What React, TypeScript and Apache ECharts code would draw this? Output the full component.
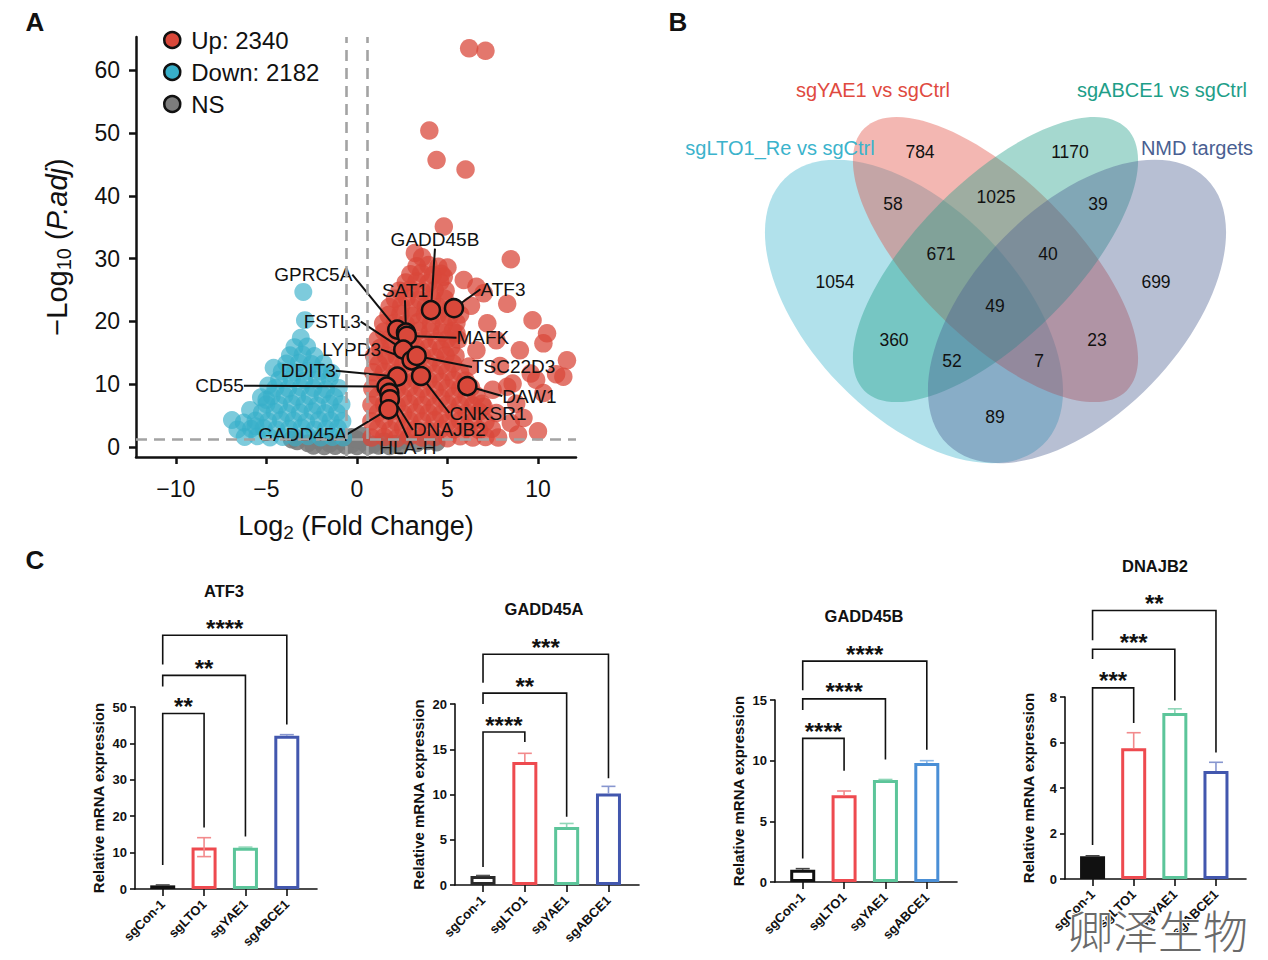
import React, { useEffect, useRef } from 'react';
import * as echarts from 'echarts';

const FONT = '"Liberation Sans", Arial, Helvetica, sans-serif';

/* ---------------- Panel A: volcano plot ---------------- */
const UP_LABEL = 'Up: 2340';
const DOWN_LABEL = 'Down: 2182';
const NS_LABEL = 'NS';
const LOG2FC_CUTOFF = 0.585;
const PADJ_CUTOFF = 1.3;
const VOLCANO_X_TICKS = [-10, -5, 0, 5, 10];
const VOLCANO_Y_TICKS = [0, 10, 20, 30, 40, 50, 60];

// [log2 fold change, -log10 adjusted p]
const UP_GENES: number[][] = [
  [0.8, 1.5], [1.5, 1.6], [2.2, 1.4], [2.9, 1.7], [3.6, 1.5], [4.3, 1.6], [5.0, 1.4], [5.7, 1.7], [6.4, 1.5], [7.1, 1.6], [7.8, 1.5],
  [1.15, 2.9], [1.85, 2.7], [2.55, 3.0], [3.25, 2.8], [3.95, 2.6], [4.65, 2.9], [5.35, 2.8], [6.05, 3.0], [6.75, 2.7], [7.45, 2.9],
  [0.8, 4.1], [1.5, 4.3], [2.2, 4.0], [2.9, 4.2], [3.6, 4.1], [4.3, 4.3], [5.0, 3.9], [5.7, 4.2], [6.4, 4.1], [7.1, 4.0],
  [1.15, 5.4], [1.85, 5.6], [2.55, 5.3], [3.25, 5.5], [3.95, 5.4], [4.65, 5.2], [5.35, 5.5], [6.05, 5.4], [6.75, 5.6],
  [0.8, 6.7], [1.5, 6.8], [2.2, 6.6], [2.9, 6.9], [3.6, 6.7], [4.3, 6.5], [5.0, 6.8], [5.7, 6.7], [6.4, 6.6], [6.9, 6.9],
  [1.15, 8.0], [1.85, 8.2], [2.55, 7.9], [3.25, 8.1], [3.95, 8.0], [4.65, 7.8], [5.35, 8.1], [6.05, 8.0], [6.6, 8.2],
  [0.85, 9.3], [1.5, 9.4], [2.2, 9.2], [2.9, 9.5], [3.6, 9.3], [4.3, 9.1], [5.0, 9.4], [5.7, 9.3], [6.3, 9.5],
  [1.15, 10.6], [1.85, 10.8], [2.55, 10.5], [3.25, 10.7], [3.95, 10.6], [4.65, 10.4], [5.35, 10.7], [6.0, 10.6],
  [0.9, 11.9], [1.5, 12.0], [2.2, 11.8], [2.9, 12.1], [3.6, 11.9], [4.3, 11.7], [5.0, 12.0], [5.7, 11.9],
  [1.2, 13.2], [1.85, 13.4], [2.55, 13.1], [3.25, 13.3], [3.95, 13.2], [4.65, 13.0], [5.3, 13.3],
  [0.95, 14.5], [1.6, 14.6], [2.2, 14.4], [2.9, 14.7], [3.6, 14.5], [4.3, 14.3], [4.9, 14.6], [5.45, 14.5],
  [1.3, 15.8], [1.9, 16.0], [2.55, 15.7], [3.25, 15.9], [3.95, 15.8], [4.65, 15.6], [5.2, 15.9],
  [1.15, 17.1], [1.8, 17.2], [2.4, 17.0], [3.0, 17.3], [3.7, 17.1], [4.4, 16.9], [5.0, 17.2], [5.6, 17.1],
  [1.5, 18.4], [2.1, 18.6], [2.75, 18.3], [3.4, 18.5], [4.05, 18.4], [4.7, 18.2], [5.3, 18.5],
  [1.45, 19.7], [2.1, 19.8], [2.7, 19.6], [3.4, 19.9], [4.1, 19.7], [4.8, 19.5], [5.5, 19.8],
  [1.75, 21.0], [2.4, 21.2], [3.05, 20.9], [3.75, 21.1], [4.45, 21.0], [5.1, 20.8], [5.7, 21.1],
  [1.8, 22.3], [2.45, 22.5], [3.1, 22.2], [3.8, 22.4], [4.5, 22.3], [5.2, 22.1],
  [2.1, 23.6], [2.75, 23.8], [3.45, 23.5], [4.15, 23.7], [4.85, 23.6],
  [2.35, 24.9], [2.95, 25.1], [3.6, 24.8], [4.3, 25.0], [4.9, 24.9],
  [2.7, 26.2], [3.3, 26.4], [3.95, 26.1], [4.6, 26.3],
  [2.95, 27.5], [3.55, 27.7], [4.2, 27.4], [4.65, 27.6],
  [3.3, 28.8], [3.95, 29.0], [4.5, 28.7],
  [6.2, 63.5], [7.1, 63.1], [4.0, 50.4], [4.4, 45.7], [6.0, 44.2], [4.8, 35.1], [8.5, 29.9], [3.2, 30.9],
  [5.0, 28.6], [3.6, 30.2], [6.6, 25.5], [5.9, 26.6], [7.0, 24.5], [8.3, 22.8], [9.7, 20.2], [10.5, 18.1],
  [10.3, 16.5], [11.6, 13.8], [11.4, 11.2], [11.0, 11.6], [9.0, 15.4], [7.7, 17.0], [7.2, 19.7], [9.6, 11.7],
  [8.6, 10.1], [7.5, 9.1], [8.8, 6.9], [7.7, 5.4], [8.5, 3.8], [7.0, 6.4], [6.2, 12.8], [5.5, 18.1],
  [6.6, 15.4], [4.8, 27.1], [6.3, 22.5], [7.9, 12.9], [9.9, 10.7], [10.3, 8.6], [8.3, 9.6], [9.2, 4.6],
  [10.0, 2.5], [8.9, 2.0],
];

const DOWN_GENES: number[][] = [
  [-6.2, 1.6], [-5.5, 1.7], [-4.8, 1.5], [-4.1, 1.6], [-3.4, 1.5], [-2.7, 1.7], [-2.0, 1.5], [-1.35, 1.6], [-0.75, 1.5],
  [-5.85, 2.9], [-5.15, 3.0], [-4.45, 2.8], [-3.75, 2.9], [-3.05, 3.1], [-2.35, 2.8], [-1.7, 2.9], [-1.05, 3.0],
  [-5.6, 4.2], [-4.9, 4.1], [-4.2, 4.3], [-3.5, 4.2], [-2.8, 4.0], [-2.1, 4.3], [-1.45, 4.2], [-0.8, 4.1],
  [-5.25, 5.5], [-4.55, 5.6], [-3.85, 5.4], [-3.15, 5.5], [-2.45, 5.7], [-1.75, 5.4], [-1.1, 5.5],
  [-5.0, 6.8], [-4.3, 6.7], [-3.6, 6.9], [-2.9, 6.8], [-2.2, 6.6], [-1.5, 6.9], [-0.85, 6.8],
  [-4.7, 8.1], [-4.0, 8.2], [-3.3, 8.0], [-2.6, 8.1], [-1.9, 8.3], [-1.25, 8.0],
  [-4.5, 9.4], [-3.8, 9.3], [-3.1, 9.5], [-2.4, 9.4], [-1.7, 9.2], [-1.0, 9.4],
  [-4.3, 10.7], [-3.6, 10.8], [-2.9, 10.6], [-2.2, 10.7], [-1.5, 10.9],
  [-4.15, 12.0], [-3.45, 11.9], [-2.75, 12.1], [-2.05, 12.0], [-1.4, 11.8],
  [-3.9, 13.3], [-3.2, 13.4], [-2.5, 13.2], [-1.85, 13.3],
  [-3.7, 14.6], [-3.0, 14.7], [-2.35, 14.5],
  [-3.45, 15.9], [-2.75, 16.0],
  [-2.96, 24.7], [-2.87, 20.2], [-3.1, 17.4], [-6.9, 4.3], [-6.6, 2.8], [-6.25, 3.9], [-5.9, 5.9],
  [-5.3, 7.9], [-5.0, 7.5], [-4.9, 9.8], [-4.6, 12.6], [-5.6, 3.3],
];

const NS_GENES: number[][] = [
  [-3.3, 0.9], [-2.7, 0.6], [-2.1, 1.0], [-1.5, 0.5], [-0.9, 0.9], [-0.3, 0.4], [0.3, 0.8], [0.9, 0.4],
  [1.5, 0.9], [2.1, 0.5], [2.7, 1.0], [3.3, 0.6], [3.9, 0.9], [4.4, 0.7],
  [-2.4, 0.2], [-1.8, 0.1], [-1.2, 0.15], [-0.6, 0.2], [0.0, 0.1], [0.6, 0.15], [1.2, 0.2], [1.8, 0.1], [2.4, 0.2],
  [-0.3, 1.6], [0.3, 1.8], [0.0, 1.2], [-3.6, 1.2],
];

const MARKED_GENES = ['GADD45B', 'ATF3', 'GPRC5A', 'SAT1', 'MAFK', 'FSTL3', 'LYPD3', 'TSC22D3', 'DDIT3', 'CNKSR1', 'DAW1', 'CD55', 'DNAJB2', 'HLA-H', 'GADD45A'];
const MARKED_LOG2FC = [4.09, 5.36, 2.23, 2.71, 2.76, 2.56, 3.02, 3.30, 2.23, 3.54, 6.10, 1.64, 1.79, 1.82, 1.75];
const MARKED_PADJ = [21.8, 22.1, 18.7, 18.2, 17.7, 15.5, 13.8, 14.5, 11.2, 11.3, 9.7, 9.6, 8.6, 7.6, 6.0];
// label shift from its point, in pixels
const MARKED_LABEL_SHIFT: number[][] = [
  [4, -71], [49, -19], [-84, -55], [-1, -42], [76, 2], [-71, -28], [-60, -11], [97, 11],
  [-89, -6], [67, 37], [62, 10], [-167, -1], [60, 37], [18, 48], [-86, 25],
];

/* ---------------- Panel B: Venn diagram ---------------- */
const VENN_SETS = ['sgLTO1_Re vs sgCtrl', 'sgYAE1 vs sgCtrl', 'sgABCE1 vs sgCtrl', 'NMD targets'];
const VENN_COLORS = ['#3BB3CC', '#E04A3F', '#1E9E88', '#4A5F92'];
const VENN_COUNTS = [784, 1170, 58, 1025, 39, 671, 40, 1054, 699, 49, 360, 23, 52, 7, 89];
const VENN_COUNT_XY: number[][] = [
  [920, 152], [1070, 152], [893, 204], [996, 197], [1098, 204], [941, 254], [1048, 254],
  [835, 282], [1156, 282], [995, 306], [894, 340], [1097, 340], [952, 361], [1039, 361], [995, 417],
];
const VENN_SET_LABEL_XY: number[][] = [[780, 148], [873, 90], [1162, 90], [1197, 148]];
const VENN_SHAPES = [
  { cx: 914, cy: 311.5, rx: 185.5, ry: 104, deg: -46 },
  { cx: 995.5, cy: 259.5, rx: 185.5, ry: 79, deg: -45 },
  { cx: 995.5, cy: 259.5, rx: 185.5, ry: 79, deg: 45 },
  { cx: 1077, cy: 311.5, rx: 185.5, ry: 104, deg: 46 },
];

/* ---------------- Panel C: qPCR bar charts ---------------- */
const QPCR_GROUPS = ['sgCon-1', 'sgLTO1', 'sgYAE1', 'sgABCE1'];
const QPCR_GENES = ['ATF3', 'GADD45A', 'GADD45B', 'DNAJB2'];

const ATF3_MEAN = [1.0, 11.4, 11.3, 42.1];
const ATF3_SD_UP = [0.1, 2.7, 0.2, 0.3];
const ATF3_SD_DOWN = [0, 2.5, 0, 0];
const GADD45A_MEAN = [1.0, 13.6, 6.4, 10.1];
const GADD45A_SD_UP = [0.05, 0.95, 0.4, 0.8];
const GADD45A_SD_DOWN = [0, 0, 0, 0];
const GADD45B_MEAN = [1.0, 7.15, 8.4, 9.8];
const GADD45B_SD_UP = [0.1, 0.35, 0.05, 0.2];
const GADD45B_SD_DOWN = [0, 0, 0, 0];
const DNAJB2_MEAN = [1.0, 5.75, 7.3, 4.75];
const DNAJB2_SD_UP = [0.02, 0.68, 0.18, 0.38];
const DNAJB2_SD_DOWN = [0, 0, 0, 0];

// comparison brackets: [from group, to group, bar height, left leg end, right leg end]
const ATF3_BRACKETS = [[0, 1, 48.2, 6.6, 16.9], [0, 2, 58.7, 55.6, 14.4], [0, 3, 69.7, 61.7, 45.2]];
const ATF3_STARS = ['**', '**', '****'];
const GADD45A_BRACKETS = [[0, 1, 16.9, 2.0, 15.8], [0, 2, 21.2, 20.0, 7.55], [0, 3, 25.5, 22.35, 11.8]];
const GADD45A_STARS = ['****', '**', '***'];
const GADD45B_BRACKETS = [[0, 1, 11.84, 1.93, 9.17], [0, 2, 15.09, 14.18, 10.1], [0, 3, 18.2, 15.8, 10.9]];
const GADD45B_STARS = ['****', '****', '****'];
const DNAJB2_BRACKETS = [[0, 1, 8.4, 1.5, 6.86], [0, 2, 10.1, 9.67, 7.85], [0, 3, 11.8, 10.5, 5.56]];
const DNAJB2_STARS = ['***', '***', '**'];

const QPCR_Y_MAX = [50, 20, 15, 8];
const QPCR_Y_STEP = [10, 5, 5, 2];

const QPCR_DATA = [
  { mean: ATF3_MEAN, up: ATF3_SD_UP, down: ATF3_SD_DOWN, brackets: ATF3_BRACKETS, stars: ATF3_STARS },
  { mean: GADD45A_MEAN, up: GADD45A_SD_UP, down: GADD45A_SD_DOWN, brackets: GADD45A_BRACKETS, stars: GADD45A_STARS },
  { mean: GADD45B_MEAN, up: GADD45B_SD_UP, down: GADD45B_SD_DOWN, brackets: GADD45B_BRACKETS, stars: GADD45B_STARS },
  { mean: DNAJB2_MEAN, up: DNAJB2_SD_UP, down: DNAJB2_SD_DOWN, brackets: DNAJB2_BRACKETS, stars: DNAJB2_STARS },
];

// layout and styling of the four small charts
const QPCR_GRIDS = [
  { left: 135, top: 707, width: 182, height: 182 },
  { left: 455, top: 704, width: 184, height: 181 },
  { left: 775, top: 700, width: 182, height: 182 },
  { left: 1065, top: 697, width: 181, height: 182 },
];
const QPCR_TITLE_XY: number[][] = [[224, 591], [544, 609], [864, 616], [1155, 566]];
const QPCR_BAR_COLORS = [
  ['#111111', '#EE4A4F', '#5CC59A', '#4257AE'],
  ['#2A2A2A', '#EE4A4F', '#5CC59A', '#4257AE'],
  ['#111111', '#EE4A4F', '#5CC59A', '#4A8FD6'],
  ['#111111', '#EE4A4F', '#5CC59A', '#4257AE'],
];
const QPCR_ERR_COLORS = [
  ['#444444', '#F28A8C', '#8FD6B7', '#8796CF'],
  ['#555555', '#F28A8C', '#8FD6B7', '#8796CF'],
  ['#444444', '#F28A8C', '#8FD6B7', '#8DB8E6'],
  ['#444444', '#F28A8C', '#8FD6B7', '#8796CF'],
];
const QPCR_FILLED = [
  [true, false, false, false],
  [false, false, false, false],
  [false, false, false, false],
  [true, false, false, false],
];

const minusFmt = (v: number) => (v < 0 ? '\u2212' + Math.abs(v) : String(v));

function buildOption() {
  const grids: any[] = [
    { left: 136, top: 37, width: 440, height: 420, outerBoundsMode: 'none' },
    ...QPCR_GRIDS.map((g) => ({ ...g, outerBoundsMode: 'none' })),
  ];

  const xAxes: any[] = [
    {
      type: 'value', gridIndex: 0, min: -12.2, max: 12.1,
      axisLine: { onZero: false, lineStyle: { color: '#111', width: 2.5 } },
      axisTick: { show: true, length: 7, customValues: VOLCANO_X_TICKS, lineStyle: { color: '#111', width: 2.5 } },
      axisLabel: { customValues: VOLCANO_X_TICKS, formatter: minusFmt, fontSize: 23, color: '#111', margin: 20, fontFamily: FONT },
      splitLine: { show: false },
      name: '{t|Log}{s|2}{t| (Fold Change)}', nameLocation: 'middle', nameGap: 52,
      nameTextStyle: {
        rich: {
          t: { fontSize: 27, color: '#111', fontFamily: FONT },
          s: { fontSize: 19, color: '#111', fontFamily: FONT, padding: [14, 0, 0, 0] },
        },
      },
    },
  ];
  const yAxes: any[] = [
    {
      type: 'value', gridIndex: 0, min: -1.6, max: 65.3,
      axisLine: { onZero: false, lineStyle: { color: '#111', width: 2.5 } },
      axisTick: { show: true, length: 7, customValues: VOLCANO_Y_TICKS, lineStyle: { color: '#111', width: 2.5 } },
      axisLabel: { customValues: VOLCANO_Y_TICKS, fontSize: 23, color: '#111', margin: 16, fontFamily: FONT },
      splitLine: { show: false },
      name: '{t|\u2212Log}{s|10}{t| (}{i|P.adj}{t|)}', nameLocation: 'middle', nameGap: 62,
      nameTextStyle: {
        rich: {
          t: { fontSize: 29, color: '#111', fontFamily: FONT },
          i: { fontSize: 29, color: '#111', fontFamily: FONT, fontStyle: 'italic' },
          s: { fontSize: 20, color: '#111', fontFamily: FONT, padding: [15, 0, 0, 0] },
        },
      },
    },
  ];

  const series: any[] = [
    {
      name: NS_LABEL, type: 'scatter', xAxisIndex: 0, yAxisIndex: 0, data: NS_GENES,
      symbolSize: 18, itemStyle: { color: '#7C7C7C', opacity: 0.9 }, silent: true,
      markLine: {
        silent: true, symbol: 'none', label: { show: false }, animation: false,
        lineStyle: { color: '#A3A3A3', type: [11, 7], width: 2.6 },
        emphasis: { disabled: true },
        data: [{ xAxis: -LOG2FC_CUTOFF }, { xAxis: LOG2FC_CUTOFF }, { yAxis: PADJ_CUTOFF }],
      },
    },
    {
      name: DOWN_LABEL, type: 'scatter', xAxisIndex: 0, yAxisIndex: 0, data: DOWN_GENES,
      symbolSize: 18, itemStyle: { color: '#38AFC9', opacity: 0.65 }, silent: true,
    },
    {
      name: UP_LABEL, type: 'scatter', xAxisIndex: 0, yAxisIndex: 0, data: UP_GENES,
      symbolSize: 18.5, itemStyle: { color: '#D9483A', opacity: 0.74 }, silent: true,
    },
    {
      name: 'marked', type: 'scatter', xAxisIndex: 0, yAxisIndex: 0, z: 4, silent: true,
      data: MARKED_GENES.map((g, i) => ({ name: g, value: [MARKED_LOG2FC[i], MARKED_PADJ[i]] })),
      symbolSize: 18,
      itemStyle: { color: '#D9483A', borderColor: '#111', borderWidth: 2.5, opacity: 1 },
      label: { show: true, formatter: '{b}', position: 'inside', fontSize: 19, color: '#111', fontFamily: FONT },
      labelLine: { show: true, lineStyle: { color: '#111', width: 2 } },
      labelLayout: (p: any) => ({ dx: MARKED_LABEL_SHIFT[p.dataIndex][0], dy: MARKED_LABEL_SHIFT[p.dataIndex][1] }),
    },
  ];

  QPCR_DATA.forEach((d, k) => {
    const gi = k + 1;
    const ticks: number[] = [];
    for (let v = 0; v <= QPCR_Y_MAX[k]; v += QPCR_Y_STEP[k]) ticks.push(v);
    xAxes.push({
      type: 'value', gridIndex: gi, min: -0.67, max: 3.73,
      axisLine: { onZero: false, lineStyle: { color: '#111', width: 1.6 } },
      axisTick: { show: true, length: 7, customValues: [0, 1, 2, 3], lineStyle: { color: '#111', width: 1.6 } },
      axisLabel: {
        customValues: [0, 1, 2, 3], formatter: (v: number) => QPCR_GROUPS[Math.round(v)],
        rotate: 45, fontSize: 13, fontWeight: 'bold', color: '#111', margin: 13, fontFamily: FONT,
      },
      splitLine: { show: false },
    });
    yAxes.push({
      type: 'value', gridIndex: gi, min: 0, max: QPCR_Y_MAX[k],
      axisLine: { show: true, onZero: false, lineStyle: { color: '#111', width: 1.6 } },
      axisTick: { show: true, length: 5, customValues: ticks, lineStyle: { color: '#111', width: 1.6 } },
      axisLabel: { customValues: ticks, fontSize: 13, fontWeight: 'bold', color: '#111', margin: 8, fontFamily: FONT },
      splitLine: { show: false },
      name: 'Relative mRNA expression', nameLocation: 'middle', nameGap: 29,
      nameTextStyle: { fontSize: 15, fontWeight: 'bold', color: '#111', fontFamily: FONT },
    });
    series.push({
      type: 'bar', xAxisIndex: gi, yAxisIndex: gi, barWidth: 25, silent: true,
      data: d.mean.map((m, i) => ({
        value: [i, m],
        itemStyle: {
          color: QPCR_FILLED[k][i] ? QPCR_BAR_COLORS[k][i] : '#ffffff',
          borderColor: QPCR_BAR_COLORS[k][i], borderWidth: 3,
        },
      })),
    });
    series.push({
      type: 'custom', xAxisIndex: gi, yAxisIndex: gi, silent: true, clip: false, z: 3,
      data: d.mean.map((m, i) => [i, m, d.up[i], d.down[i]]),
      renderItem: (params: any, api: any) => {
        const i = api.value(0), m = api.value(1), up = api.value(2), dn = api.value(3);
        const c = QPCR_ERR_COLORS[k][params.dataIndex];
        const top = api.coord([i, m + up]);
        const bot = api.coord([i, m - dn]);
        const half = 7;
        const st = { stroke: c, lineWidth: 1.6 };
        const kids: any[] = [
          { type: 'line', shape: { x1: top[0], y1: top[1], x2: bot[0], y2: bot[1] }, style: st },
          { type: 'line', shape: { x1: top[0] - half, y1: top[1], x2: top[0] + half, y2: top[1] }, style: st },
        ];
        if (dn > 0) kids.push({ type: 'line', shape: { x1: bot[0] - half, y1: bot[1], x2: bot[0] + half, y2: bot[1] }, style: st });
        return { type: 'group', children: kids };
      },
    });
    series.push({
      type: 'custom', xAxisIndex: gi, yAxisIndex: gi, silent: true, clip: false, z: 3,
      data: d.brackets,
      renderItem: (params: any, api: any) => {
        const i0 = api.value(0), i1 = api.value(1), y = api.value(2), yl = api.value(3), yr = api.value(4);
        const a = api.coord([i0, yl]);
        const b = api.coord([i0, y]);
        const c = api.coord([i1, y]);
        const e = api.coord([i1, yr]);
        return {
          type: 'group',
          children: [
            { type: 'polyline', shape: { points: [a, b, c, e] }, style: { stroke: '#111', lineWidth: 1.6, fill: 'none' } },
            {
              type: 'text', x: (b[0] + c[0]) / 2, y: b[1] + 5,
              style: {
                text: d.stars[params.dataIndex], fill: '#111', fontSize: 24, fontWeight: 'bold', fontFamily: FONT,
                align: 'center', verticalAlign: 'bottom', textAlign: 'center', textVerticalAlign: 'bottom',
              },
            },
          ],
        };
      },
    });
  });

  const txt = (x: number, y: number, text: string, size: number, color: string, weight = 'normal', extra: any = {}) => ({
    type: 'text', x, y, silent: true,
    style: {
      text, fill: color, fontSize: size, fontWeight: weight, fontFamily: FONT,
      align: 'center', verticalAlign: 'middle', textAlign: 'center', textVerticalAlign: 'middle', ...extra,
    },
  });

  const graphic: any[] = [
    txt(35, 22, 'A', 26, '#111', 'bold'),
    txt(678, 22, 'B', 26, '#111', 'bold'),
    txt(35, 560, 'C', 26, '#111', 'bold'),
    ...VENN_SHAPES.map((s, i) => ({
      type: 'ellipse', x: s.cx, y: s.cy, rotation: (s.deg * Math.PI) / 180, silent: true,
      shape: { cx: 0, cy: 0, rx: s.rx, ry: s.ry },
      style: { fill: VENN_COLORS[i], opacity: 0.4 },
    })),
    ...VENN_SETS.map((name, i) => txt(VENN_SET_LABEL_XY[i][0], VENN_SET_LABEL_XY[i][1], name, 20, VENN_COLORS[i])),
    ...VENN_COUNTS.map((n, i) => txt(VENN_COUNT_XY[i][0], VENN_COUNT_XY[i][1], String(n), 17.5, '#111')),
    ...QPCR_GENES.map((g, i) => txt(QPCR_TITLE_XY[i][0], QPCR_TITLE_XY[i][1], g, 16.5, '#111', 'bold')),
    {
      type: 'text', x: 1068, y: 929, silent: true, z: 100,
      style: {
        text: '卿泽生物', fill: '#6A6A6A', fontSize: 45, fontWeight: 200,
        fontFamily: '"Noto Sans CJK SC", sans-serif', stroke: '#ffffff', lineWidth: 2,
        align: 'left', verticalAlign: 'middle', textAlign: 'left', textVerticalAlign: 'middle',
      },
    },
  ];

  return {
    animation: false,
    backgroundColor: '#ffffff',
    textStyle: { fontFamily: FONT },
    grid: grids,
    xAxis: xAxes,
    yAxis: yAxes,
    legend: {
      data: [UP_LABEL, DOWN_LABEL, NS_LABEL],
      orient: 'vertical', left: 158, top: 23, itemWidth: 16, itemHeight: 16, itemGap: 8,
      icon: 'circle', selectedMode: false,
      itemStyle: { borderColor: '#111', borderWidth: 2.5, opacity: 1 },
      textStyle: { fontSize: 24, color: '#111', fontFamily: FONT, padding: [0, 0, 0, 6] },
    },
    series,
    graphic,
  };
}

export default function App() {
  const ref = useRef<HTMLDivElement>(null);
  useEffect(() => {
    if (!ref.current) return;
    const chart = echarts.init(ref.current, null, { renderer: 'svg' });
    chart.setOption(buildOption() as any);
    return () => chart.dispose();
  }, []);
  return (
    <div
      ref={ref}
      style={{ position: 'absolute', left: 0, top: 0, width: 1268, height: 960, background: '#ffffff' }}
    />
  );
}
